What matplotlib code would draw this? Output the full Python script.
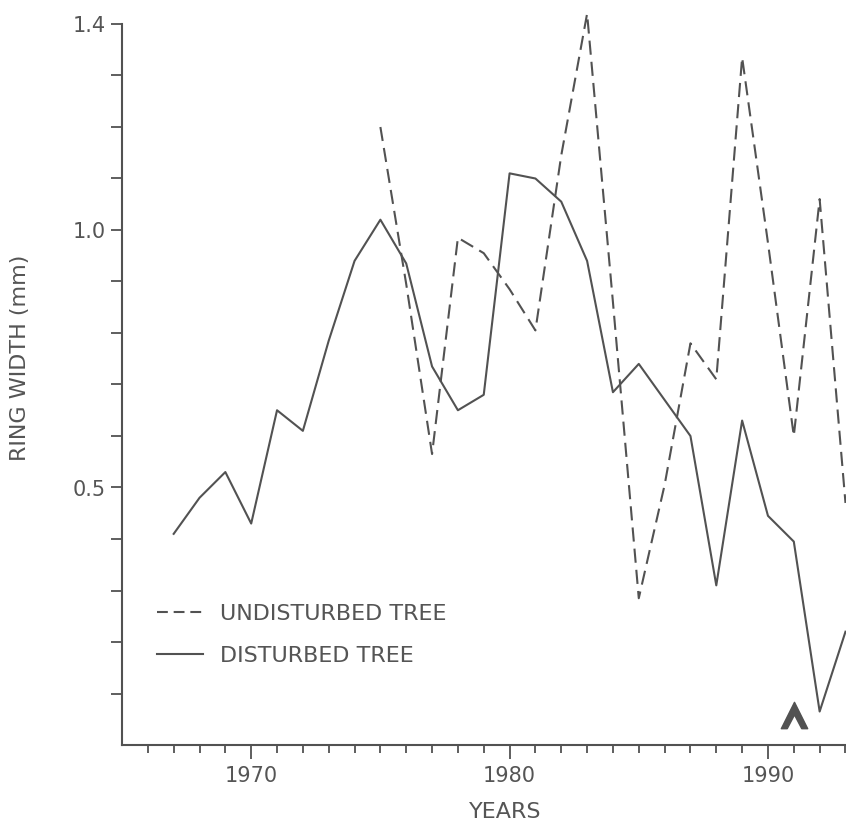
import numpy as np
import matplotlib.pyplot as plt
from matplotlib.path import Path
from matplotlib.lines import Line2D

# ring widths (mm)
dist_years = np.arange(1967, 1994)
dist_width = [0.41, 0.48, 0.53, 0.43, 0.65, 0.61, 0.785, 0.94, 1.02, 0.935,
              0.735, 0.65, 0.68, 1.11, 1.10, 1.055, 0.94, 0.685, 0.74, 0.67,
              0.60, 0.31, 0.63, 0.445, 0.395, 0.065, 0.22]

undist_years = np.arange(1975, 1994)
undist_width = [1.20, 0.895, 0.565, 0.985, 0.955, 0.885, 0.805, 1.145, 1.42,
                0.86, 0.285, 0.505, 0.78, 0.71, 1.335, 0.975, 0.60, 1.06, 0.47]

legend_labels = ["UNDISTURBED TREE", "DISTURBED TREE"]
major_years = [1970, 1980, 1990]
y_labels = ["0.5", "1.0", "1.4"]
event_year = 1991
event_y = 0.058

INK = "#525252"
TXT = "#555555"
FS_TICK = 15
FS_LAB = 16

plt.rcParams["font.family"] = ["DejaVu Sans"]

W, H = 846, 821
fig = plt.figure(figsize=(W / 100, H / 100), dpi=100)
ax = fig.add_axes([122 / W, 76 / H, 1 - 122 / W, 721 / H])

ax.plot(undist_years, undist_width, color=INK, lw=1.5,
        dashes=(6.8, 3.4), clip_on=False)
ax.plot(dist_years, dist_width, color=INK, lw=1.5)

# chevron marking the disturbance year
chevron = Path([(-1, -1), (0, 1), (1, -1), (0.55, -1), (0, 0.05), (-0.55, -1), (-1, -1)],
               [Path.MOVETO] + [Path.LINETO] * 5 + [Path.CLOSEPOLY])
ax.plot([event_year], [event_y], marker=chevron, markersize=19, color=INK,
        linestyle="none")

ax.set_xlim(1965, 1993.02)
ax.set_ylim(0, 1.4)

for s in ("top", "right"):
    ax.spines[s].set_visible(False)
for s in ("left", "bottom"):
    ax.spines[s].set_color(INK)
    ax.spines[s].set_linewidth(1.5)

ax.set_xticks(major_years)
ax.set_xticklabels([str(y) for y in major_years])
ax.set_xticks([y for y in range(1966, 1994) if y not in major_years], minor=True)
ax.set_yticks([0.5, 1.0, 1.4])
ax.set_yticklabels(y_labels)
ax.set_yticks([round(0.1 * i, 1) for i in range(1, 14) if i not in (5, 10)], minor=True)

ax.tick_params(axis="x", which="major", length=10, width=1.3, color=INK,
               labelsize=FS_TICK, labelcolor=TXT, pad=5)
ax.tick_params(axis="x", which="minor", length=6, width=1.3, color=INK)
ax.tick_params(axis="y", which="both", length=8, width=1.3, color=INK,
               labelsize=FS_TICK, labelcolor=TXT, pad=4)

fig.text(20 / W, 1 - 358 / H, "RING WIDTH (mm)", rotation=90, ha="center",
         va="center", fontsize=FS_LAB, color=TXT)
fig.text(505 / W, 1 - 812 / H, "YEARS", ha="center", va="center",
         fontsize=FS_LAB, color=TXT)

h_und = Line2D([], [], color=INK, lw=1.5, dashes=(5.2, 2.8))
h_dis = Line2D([], [], color=INK, lw=1.5)
ax.legend([h_und, h_dis], legend_labels, loc="upper left",
          bbox_to_anchor=(157 / W, 1 - 604 / H), bbox_transform=fig.transFigure,
          frameon=False, fontsize=FS_LAB, labelcolor=TXT, handlelength=2.07,
          handletextpad=0.77, labelspacing=1.0, borderpad=0, borderaxespad=0)

fig.savefig("out.png", dpi=100)
